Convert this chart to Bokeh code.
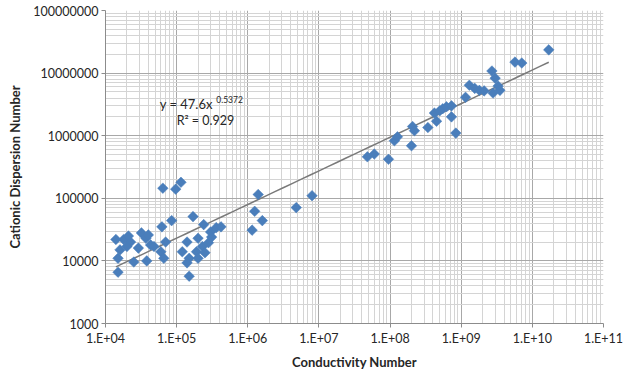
import numpy as np
from bokeh.plotting import figure
from bokeh.models import FixedTicker, CustomJSTickFormatter, Range1d, ColumnDataSource
from bokeh.core.properties import value
from bokeh.embed import file_html
from bokeh.resources import INLINE

# Data
conductivity = [
    1.5e4, 1.5e4, 1.6e4, 1.8e4, 2.1e4, 2.25e4, 2.0e4, 2.5e4, 3.2e4, 3.7e4,
    4.0e4, 4.3e4, 3.8e4, 4.8e4, 6.0e4, 6.6e4, 7.0e4, 1.2e5, 1.4e5, 1.5e5,
    1.4e5, 1.5e5, 1.9e5, 2.0e5, 2.3e5, 2.0e5, 2.5e5, 2.8e5, 3.0e5, 3.1e5,
    3.6e5, 4.2e5, 2.4e5, 1.7e5, 8.5e4, 6.2e4, 6.4e4, 9.7e4, 1.15e5, 2.9e4,
    1.4e4,
    1.15e6, 1.25e6, 1.6e6, 1.4e6, 4.8e6, 8.0e6,
    4.8e7, 6.0e7, 9.5e7, 1.15e8, 1.27e8, 2.0e8, 2.07e8, 2.2e8, 3.4e8, 4.2e8,
    4.5e8, 5.0e8, 5.5e8, 6.2e8, 7.3e8, 7.3e8, 8.4e8, 1.15e9, 1.3e9, 1.55e9,
    1.8e9, 2.1e9, 2.7e9, 3.0e9, 3.3e9, 2.8e9, 3.5e9, 5.7e9, 7.1e9, 1.7e10,
]
dispersion = [
    6600, 11000, 15000, 22000, 25000, 20000, 17000, 9600, 28000, 23000,
    26000, 18000, 10000, 17000, 14000, 11000, 20000, 14000, 20000, 11000,
    9300, 5700, 14000, 23000, 17000, 11000, 13500, 19500, 29000, 24000,
    34000, 35000, 38000, 51000, 44000, 35000, 145000, 140000, 180000, 16000,
    22000,
    31000, 62000, 44000, 115000, 71000, 110000,
    460000, 510000, 420000, 830000, 960000, 690000, 1.4e6, 1.2e6, 1.35e6, 2.3e6,
    1.7e6, 2.5e6, 2.7e6, 2.9e6, 3.0e6, 2.0e6, 1.1e6, 4.1e6, 6.4e6, 5.7e6,
    5.3e6, 5.2e6, 1.08e7, 8.3e6, 6.2e6, 4.8e6, 5.3e6, 1.5e7, 1.45e7, 2.35e7,
]
fit_coef = 47.6
fit_exp = 0.5372
fit_r2 = 0.929
x_ticks = [1e4, 1e5, 1e6, 1e7, 1e8, 1e9, 1e10, 1e11]
y_ticks = [1e3, 1e4, 1e5, 1e6, 1e7, 1e8]

x_minor = [m * 10.0 ** e for e in range(4, 11) for m in range(2, 10)]
y_minor = [m * 10.0 ** e for e in range(3, 8) for m in range(2, 10)]

p = figure(width=635, height=373, x_axis_type="log", y_axis_type="log",
           x_range=Range1d(1e4, 1e11), y_range=Range1d(1e3, 1e8),
           output_backend="svg", toolbar_location=None,
           min_border_left=105, min_border_right=32,
           min_border_top=10, min_border_bottom=50)
p.outline_line_color = None
p.background_fill_color = "white"

FONT = "Lato"
p.xaxis.ticker = FixedTicker(ticks=x_ticks, minor_ticks=x_minor)
p.yaxis.ticker = FixedTicker(ticks=y_ticks, minor_ticks=y_minor)
p.xaxis.formatter = CustomJSTickFormatter(code="""
var e = Math.round(Math.log10(tick));
return '1.E+' + (e < 10 ? '0' + e : e);
""")
p.yaxis.formatter = CustomJSTickFormatter(code="return Math.round(tick).toFixed(0);")

for ax in (p.xaxis[0], p.yaxis[0]):
    ax.axis_line_color = "#8c8c8c"
    ax.major_tick_line_color = "#8c8c8c"
    ax.major_tick_out = 4
    ax.major_tick_in = 0
    ax.minor_tick_out = 0
    ax.minor_tick_in = 0
    ax.major_label_text_font = FONT
    ax.major_label_text_font_size = "12.5px"
    ax.major_label_text_color = "#262626"
    ax.axis_label_text_font = FONT
    ax.axis_label_text_font_style = "bold"
    ax.axis_label_text_font_size = "13px"
    ax.axis_label_text_color = "#262626"

p.xaxis.axis_label = "Conductivity Number"
p.yaxis.axis_label = "Cationic Dispersion Number"
p.xaxis.major_label_standoff = 3
p.yaxis.major_label_standoff = 3
p.xaxis.axis_label_standoff = 5
p.yaxis.axis_label_standoff = 7

for g in (p.xgrid[0], p.ygrid[0]):
    g.grid_line_color = "#a8a8a8"
    g.grid_line_width = 1
    g.minor_grid_line_color = "#d4d4d4"
    g.minor_grid_line_width = 1

# Trendline from the stated power fit
xs = np.array(conductivity)
tx = np.logspace(np.log10(xs.min()), np.log10(xs.max()), 50)
ty = fit_coef * tx ** fit_exp
p.line(tx, ty, line_color="#7a7a7a", line_width=1.5)

src = ColumnDataSource(dict(x=conductivity, y=dispersion))
p.scatter("x", "y", source=src, marker="square", size=7.5, angle=np.pi / 4,
          fill_color="#4a7ebb", line_color="#4a7ebb", line_width=0.5)

# Equation labels
p.text(x=[5.78e4], y=[3.16e6], text=["y = %.1fx" % fit_coef],
       text_font=value(FONT), text_font_size="13px", text_color="#262626",
       text_baseline="middle", text_align="left")
p.text(x=[3.6e5], y=[3.85e6], text=["%.4f" % fit_exp],
       text_font=value(FONT), text_font_size="8.5px", text_color="#262626",
       text_baseline="middle", text_align="left")
p.text(x=[1.0e5], y=[1.75e6], text=["R\u00b2 = %.3f" % fit_r2],
       text_font=value(FONT), text_font_size="12.5px", text_color="#262626",
       text_baseline="middle", text_align="left")

open("out.html", "w").write(file_html(p, INLINE))
